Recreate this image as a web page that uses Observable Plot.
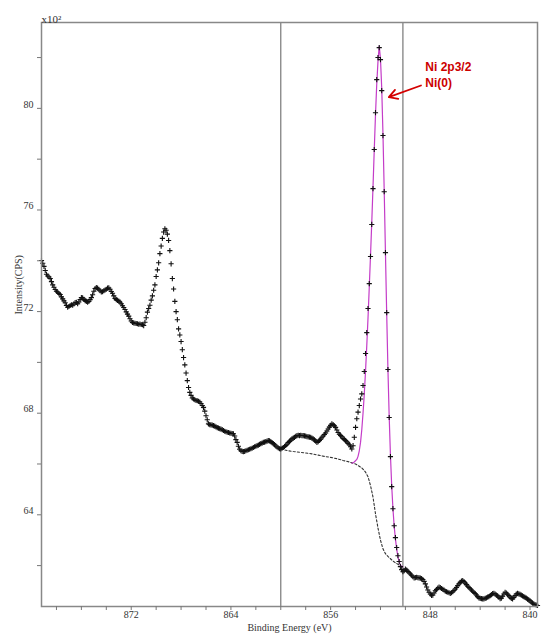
<!DOCTYPE html>
<html><head><meta charset="utf-8">
<script src="https://cdn.jsdelivr.net/npm/d3@7"></script>
<script src="https://cdn.jsdelivr.net/npm/@observablehq/plot@0.6"></script>
<style>html,body{margin:0;padding:0;background:#fff}svg{display:block}</style>
</head><body><div id="chart"></div>
<script>
// Binding energy (eV) of each measured point
const energy = [
879.2,879.1,879,878.9,878.8,878.7,878.6,878.5,878.4,878.3,
878.2,878.1,878,877.9,877.8,877.7,877.6,877.5,877.4,877.3,
877.2,877.1,877,876.9,876.8,876.7,876.6,876.5,876.4,876.3,
876.2,876.1,876,875.9,875.8,875.7,875.6,875.5,875.4,875.3,
875.2,875.1,875,874.9,874.8,874.7,874.6,874.5,874.4,874.3,
874.2,874.1,874,873.9,873.8,873.7,873.6,873.5,873.4,873.3,
873.2,873.1,873,872.9,872.8,872.7,872.6,872.5,872.4,872.3,
872.2,872.1,872,871.9,871.8,871.7,871.6,871.5,871.4,871.3,
871.2,871.1,871,870.9,870.8,870.7,870.6,870.5,870.4,870.3,
870.2,870.1,870,869.9,869.8,869.7,869.6,869.5,869.4,869.3,
869.2,869.1,869,868.9,868.8,868.7,868.6,868.5,868.4,868.3,
868.2,868.1,868,867.9,867.8,867.7,867.6,867.5,867.4,867.3,
867.2,867.1,867,866.9,866.8,866.7,866.6,866.5,866.4,866.3,
866.2,866.1,866,865.9,865.8,865.7,865.6,865.5,865.4,865.3,
865.2,865.1,865,864.9,864.8,864.7,864.6,864.5,864.4,864.3,
864.2,864.1,864,863.9,863.8,863.7,863.6,863.5,863.4,863.3,
863.2,863.1,863,862.9,862.8,862.7,862.6,862.5,862.4,862.3,
862.2,862.1,862,861.9,861.8,861.7,861.6,861.5,861.4,861.3,
861.2,861.1,861,860.9,860.8,860.7,860.6,860.5,860.4,860.3,
860.2,860.1,860,859.9,859.8,859.7,859.6,859.5,859.4,859.3,
859.2,859.1,859,858.9,858.8,858.7,858.6,858.5,858.4,858.3,
858.2,858.1,858,857.9,857.8,857.7,857.6,857.5,857.4,857.3,
857.2,857.1,857,856.9,856.8,856.7,856.6,856.5,856.4,856.3,
856.2,856.1,856,855.9,855.8,855.7,855.6,855.5,855.4,855.3,
855.2,855.1,855,854.9,854.8,854.7,854.6,854.5,854.4,854.3,
854.2,854.1,854,853.9,853.8,853.7,853.6,853.5,853.4,853.3,
853.2,853.1,853,852.9,852.8,852.7,852.6,852.5,852.4,852.3,
852.2,852.1,852,851.9,851.8,851.7,851.6,851.5,851.4,851.3,
851.2,851.1,851,850.9,850.8,850.7,850.6,850.5,850.4,850.3,
850.2,850.1,850,849.9,849.8,849.7,849.6,849.5,849.4,849.3,
849.2,849.1,849,848.9,848.8,848.7,848.6,848.5,848.4,848.3,
848.2,848.1,848,847.9,847.8,847.7,847.6,847.5,847.4,847.3,
847.2,847.1,847,846.9,846.8,846.7,846.6,846.5,846.4,846.3,
846.2,846.1,846,845.9,845.8,845.7,845.6,845.5,845.4,845.3,
845.2,845.1,845,844.9,844.8,844.7,844.6,844.5,844.4,844.3,
844.2,844.1,844,843.9,843.8,843.7,843.6,843.5,843.4,843.3,
843.2,843.1,843,842.9,842.8,842.7,842.6,842.5,842.4,842.3,
842.2,842.1,842,841.9,841.8,841.7,841.6,841.5,841.4,841.3,
841.2,841.1,841,840.9,840.8,840.7,840.6,840.5,840.4,840.3,
840.2,840.1,840,839.9,839.8,839.7,839.6,839.5,839.4
];
// Intensity (x10^2 CPS) of each measured point
const counts = [
74.01,73.90,73.78,73.62,73.47,73.40,73.36,73.30,73.18,73.05,
72.96,72.87,72.80,72.76,72.71,72.67,72.58,72.50,72.42,72.35,
72.24,72.17,72.20,72.24,72.27,72.25,72.30,72.35,72.36,72.31,
72.38,72.47,72.55,72.54,72.48,72.43,72.40,72.37,72.40,72.47,
72.55,72.66,72.80,72.91,72.94,72.92,72.88,72.82,72.77,72.78,
72.82,72.85,72.88,72.92,72.93,72.88,72.79,72.72,72.62,72.52,
72.47,72.44,72.41,72.37,72.31,72.23,72.16,72.08,71.99,71.90,
71.82,71.72,71.63,71.57,71.55,71.54,71.53,71.52,71.50,71.51,
71.49,71.48,71.45,71.58,71.76,71.98,72.12,72.25,72.45,72.62,
72.84,73.05,73.38,73.64,73.92,74.28,74.58,74.88,75.13,75.26,
75.20,75.05,74.80,74.40,73.88,73.30,72.89,72.40,72.00,71.68,
71.32,71.08,70.82,70.50,70.19,69.90,69.58,69.28,69.01,68.82,
68.70,68.60,68.56,68.53,68.50,68.49,68.47,68.44,68.38,68.30,
68.23,68.08,67.90,67.74,67.58,67.55,67.54,67.53,67.51,67.49,
67.46,67.43,67.41,67.39,67.37,67.35,67.32,67.29,67.27,67.25,
67.24,67.22,67.21,67.20,67.19,67.10,66.96,66.85,66.70,66.58,
66.52,66.50,66.49,66.50,66.52,66.54,66.56,66.58,66.60,66.62,
66.65,66.68,66.70,66.72,66.74,66.77,66.80,66.82,66.85,66.86,
66.88,66.90,66.92,66.91,66.88,66.84,66.80,66.76,66.71,66.67,
66.63,66.60,66.59,66.62,66.65,66.69,66.73,66.78,66.84,66.89,
66.94,66.99,67.02,67.05,67.09,67.12,67.13,67.12,67.13,67.12,
67.12,67.11,67.10,67.08,67.07,67.06,67.05,67.02,66.99,66.95,
66.90,66.85,66.88,66.93,66.98,67.05,67.10,67.16,67.22,67.30,
67.38,67.45,67.52,67.58,67.55,67.50,67.44,67.34,67.24,67.17,
67.12,67.07,67.01,66.97,66.92,66.87,66.81,66.76,66.68,66.59,
66.72,67.05,67.44,67.78,68.04,68.30,68.56,68.76,69.09,69.64,
70.35,71.17,72.12,73.10,74.17,75.43,76.84,78.38,79.83,81.13,
82.00,82.39,81.92,80.70,78.93,76.72,74.32,71.96,69.72,67.83,
66.29,65.11,64.24,63.57,63.10,62.71,62.39,62.16,61.96,61.84,
61.76,61.80,61.86,61.82,61.77,61.72,61.67,61.62,61.56,61.52,
61.53,61.54,61.53,61.52,61.51,61.49,61.45,61.38,61.28,61.16,
61.04,60.95,60.88,60.83,60.84,60.92,61.01,61.06,61.11,61.15,
61.13,61.10,61.07,61.04,60.99,60.97,60.95,60.93,60.91,60.93,
60.97,61.02,61.08,61.14,61.21,61.28,61.34,61.39,61.41,61.37,
61.31,61.25,61.19,61.14,61.09,61.04,60.99,60.94,60.90,60.84,
60.78,60.73,60.71,60.70,60.69,60.69,60.71,60.73,60.76,60.78,
60.82,60.86,60.90,60.91,60.88,60.84,60.81,60.76,60.70,60.72,
60.80,60.88,60.95,60.92,60.87,60.82,60.76,60.71,60.69,60.75,
60.82,60.88,60.91,60.89,60.87,60.84,60.81,60.78,60.75,60.72,
60.68,60.65,60.61,60.56,60.52,60.49,60.47,60.45,60.43
];
// Shirley background (dotted)
const bgEnergy = [860.0,859.5,859.0,858.5,858.0,857.5,857.0,856.5,856.0,855.5,855.0,854.5,854.0,853.5,853.2,853.0,852.8,852.6,852.4,852.2,852.0,851.8,851.6,851.4,851.2,851.0,850.8,850.6,850.4,850.2];
const bgCounts = [66.59,66.53,66.49,66.46,66.43,66.40,66.35,66.30,66.26,66.21,66.14,66.08,66.00,65.85,65.68,65.50,65.15,64.70,64.04,63.48,63.00,62.66,62.47,62.36,62.27,62.18,62.11,62.05,61.99,61.95];
// Ni(0) peak fit (magenta)
const fitEnergy = [854.3,854.1,853.9,853.8,853.7,853.6,853.5,853.4,853.3,853.2,853.1,853,852.9,852.8,852.7,852.6,852.5,852.4,852.3,852.2,852.1,852,851.9,851.8,851.7,851.6,851.5,851.4,851.3,851.2,851.1,851,850.9,850.8,850.7,850.6,850.5,850.4,850.3,850.2];
const fitCounts = [66.03,66.08,66.18,66.30,66.52,66.85,67.35,68.00,68.75,69.65,70.65,71.75,72.95,74.20,75.50,76.90,78.35,79.75,80.95,81.85,82.45,81.95,80.80,79.00,76.75,74.30,71.90,69.70,67.85,66.35,65.15,64.25,63.55,63.05,62.65,62.35,62.15,62.02,61.97,61.95];
// Region limits (vertical lines)
const regionLimits = [860.0, 850.2];
// Axis ticks
const xLabelTicks = [872, 864, 856, 848, 840];
const xAllTicks = [878,876,874,872,870,868,866,864,862,860,858,856,854,852,850,848,846,844,842,840];
const yLabelTicks = [64, 68, 72, 76, 80];
const yAllTicks = [62,64,66,68,70,72,74,76,78,80,82];
// Annotation
const annLabels = ["Ni 2p3/2", "Ni(0)"];
const annEnergy = [848.4, 848.4];
const annCounts = [81.62, 81.0];
const arrowStart = [848.75, 80.9];
const arrowEnd = [851.33, 80.44];

const spectrum = energy.map((e, i) => ({e, c: counts[i]}));
const bg = bgEnergy.map((e, i) => ({e, c: bgCounts[i]}));
const fit = fitEnergy.map((e, i) => ({e, c: fitCounts[i]}));
const ann = annLabels.map((t, i) => ({t, e: annEnergy[i], c: annCounts[i]}));

const serif = "'Liberation Serif','DejaVu Serif',serif";
const plot = Plot.plot({
  width: 543, height: 639,
  marginLeft: 41, marginRight: 6, marginTop: 22, marginBottom: 33,
  style: {fontFamily: serif, fontSize: "10px", background: "#fff", color: "#333", overflow: "visible"},
  x: {domain: [879.2, 839.4], label: null},
  y: {domain: [60.39, 83.38], label: null},
  marks: [
    Plot.ruleX(regionLimits, {stroke: "#777", strokeWidth: 1.2}),
    Plot.line(bg, {x: "e", y: "c", stroke: "#333", strokeWidth: 1.1, strokeDasharray: "2.2,2"}),
    Plot.line(fit, {x: "e", y: "c", stroke: "#c43cc8", strokeWidth: 1.2}),
    Plot.dot(spectrum, {x: "e", y: "c", symbol: "plus", r: 1.8, stroke: "#111", strokeWidth: 1.1}),
    Plot.frame({stroke: "#888", strokeWidth: 1.5}),
    Plot.axisX({ticks: xAllTicks, tickSize: 4, tickFormat: () => "", stroke: "#777", label: null}),
    Plot.axisX({ticks: xLabelTicks, tickSize: 0, tickPadding: 4, tickFormat: d => String(d), fill: "#333", label: null}),
    Plot.axisY({ticks: yAllTicks, tickSize: 4, tickFormat: () => "", stroke: "#777", label: null}),
    Plot.axisY({ticks: yLabelTicks, tickSize: 0, tickPadding: 8, dy: -4, tickFormat: d => String(d), fill: "#333", label: null}),
    Plot.text(["Binding Energy (eV)"], {text: d => d, frameAnchor: "bottom", dy: 24, fontSize: 10, fill: "#333"}),
    Plot.text(["Intensity(CPS)"], {text: d => d, frameAnchor: "left", dx: -23, rotate: -90, fontSize: 10, fill: "#333"}),
    Plot.text(["x10²"], {text: d => d, frameAnchor: "top-left", dy: -7, textAnchor: "start", fontSize: 11, fill: "#333"}),
    Plot.arrow([0], {x1: () => arrowStart[0], y1: () => arrowStart[1], x2: () => arrowEnd[0], y2: () => arrowEnd[1], stroke: "#d40000", strokeWidth: 1.8, headLength: 8}),
    Plot.text(ann, {x: "e", y: "c", text: "t", textAnchor: "start", fill: "#cc0000", fontWeight: "bold", fontSize: 12, fontFamily: "'Liberation Sans',Arial,sans-serif"})
  ]
});
document.getElementById("chart").appendChild(plot);
</script>
</body></html>
